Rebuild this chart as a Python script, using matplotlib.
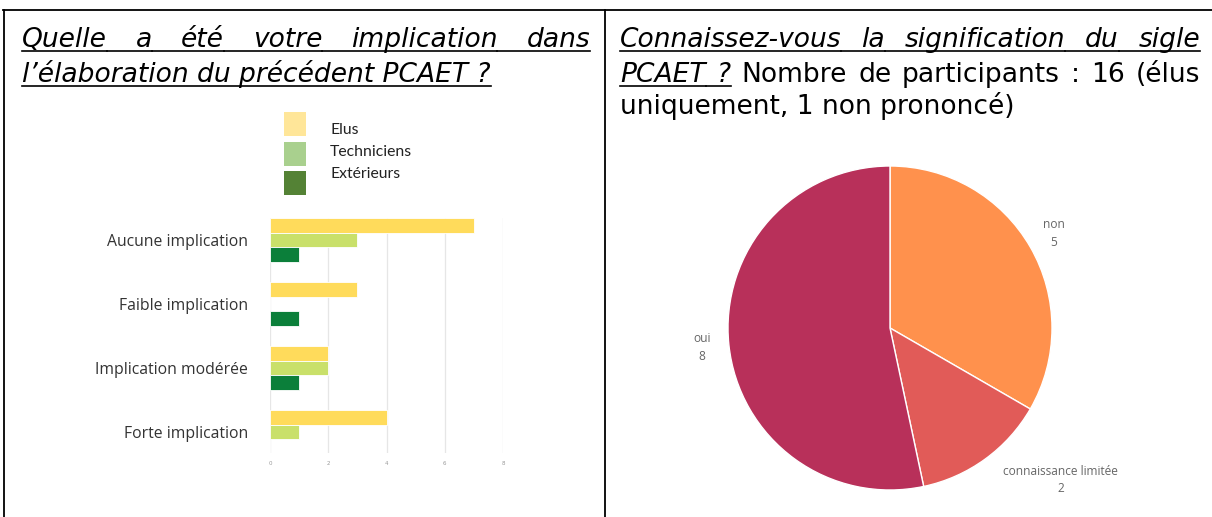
import matplotlib
matplotlib.use('Agg')
import matplotlib.pyplot as plt
import numpy as np
from matplotlib.patches import Rectangle
from matplotlib.lines import Line2D

# ---------------- data ----------------
categories = ["Aucune implication", "Faible implication",
              "Implication modérée", "Forte implication"]
series_names = ["Elus", "Techniciens", "Extérieurs"]
elus = [7, 3, 2, 4]
techniciens = [3, 0, 2, 1]
exterieurs = [1, 1, 1, 0]
x_ticks = [0, 2, 4, 6, 8]

pie_labels = ["non", "connaissance limitée", "oui"]
pie_values = [5, 2, 8]

title_left_1 = ["Quelle", "a", "été", "votre", "implication", "dans"]
title_left_2 = "l’élaboration du précédent PCAET ?"
title_right_1 = ["Connaissez-vous", "la", "signification", "du", "sigle"]
title_right_2_u = ["PCAET", "?"]
title_right_2 = ["Nombre", "de", "participants", ":", "16", "(élus"]
title_right_3 = "uniquement, 1 non prononcé)"

# ---------------- figure ----------------
W, H, DPI = 1212, 517, 100
fig = plt.figure(figsize=(W / DPI, H / DPI), dpi=DPI)
fig.patch.set_facecolor('white')
renderer = fig.canvas.get_renderer()


def fx(x):
    return x / W


def fy(y):
    return 1 - y / H


def twidth(s, **kw):
    t = fig.text(0, 0, s, **kw)
    w = t.get_window_extent(renderer).width
    t.remove()
    return w


TFONT = 'DejaVu Sans'
ital = dict(family=TFONT, style='italic')
norm = dict(family=TFONT)
# font size fitted so that the last left line is ~470 px wide
fs = 10 * 468 / twidth(title_left_2, fontsize=10, **ital)


def underline(x0, x1, base):
    fig.add_artist(Line2D([fx(x0), fx(x1)], [fy(base + 3.5), fy(base + 3.5)],
                          color='black', lw=1.2))


def justified(words, styles, x0, x1, base, ul_flags):
    widths = [twidth(w, fontsize=fs, **st) for w, st in zip(words, styles)]
    gap = (x1 - x0 - sum(widths)) / (len(words) - 1)
    x = x0
    prev_end = None
    for w, st, wd, ul in zip(words, styles, widths, ul_flags):
        fig.text(fx(x), fy(base), w, fontsize=fs, va='baseline', ha='left',
                 color='black', **st)
        if ul:
            start = prev_end if prev_end is not None else x
            underline(start, x + wd, base)
            prev_end = x + wd
        else:
            prev_end = None
        x += wd + gap


# titles
b1, b2, b3 = 47, 82, 114
justified(title_left_1, [ital] * len(title_left_1), 22, 590, b1,
          [True] * len(title_left_1))
fig.text(fx(22), fy(b2), title_left_2, fontsize=fs, va='baseline', ha='left', **ital)
underline(22, 22 + twidth(title_left_2, fontsize=fs, **ital), b2)

justified(title_right_1, [ital] * len(title_right_1), 620, 1200, b1,
          [True] * len(title_right_1))
w2 = title_right_2_u + title_right_2
justified(w2, [ital] * 2 + [norm] * len(title_right_2), 620, 1200, b2,
          [True] * 2 + [False] * len(title_right_2))
fig.text(fx(620), fy(b3), title_right_3, fontsize=fs, va='baseline', ha='left', **norm)

# table borders
for xs, ys in [((3, 1212), (10, 10)), ((4, 4), (10, 517)), ((605, 605), (10, 517))]:
    fig.add_artist(Line2D([fx(xs[0]), fx(xs[1])], [fy(ys[0]), fy(ys[1])],
                          color='black', lw=1.3))

# ---------------- legend (separate image in original) ----------------
leg_colors = ['#FFE699', '#A9D08E', '#548235']
leg_tops = [112, 142, 171]
leg_text_y = [130, 152, 174]
for name, c, top, ty in zip(series_names, leg_colors, leg_tops, leg_text_y):
    fig.add_artist(Rectangle((fx(284), fy(top + 24)), fx(22), 24 / H,
                             facecolor=c, edgecolor='none'))
    fig.text(fx(330), fy(ty), name, fontsize=11.3, family='Lato',
             color='#222222', va='center', ha='left')

# ---------------- bar chart ----------------
bar_colors = ['#FFDB5B', '#C9E06A', '#0B7F3A']
ax_top, ax_bot = 218, 453
px_per_unit = 64.0
y0_px = 240
ax = fig.add_axes([fx(270), fy(ax_bot), (503 - 270) / W, (ax_bot - ax_top) / H])
ypos = np.arange(len(categories))
h = 14.5 / px_per_unit
for vals, c, off in zip([elus, techniciens, exterieurs], bar_colors, [-h, 0, h]):
    ax.barh(ypos + off, vals, height=h, color=c, edgecolor='white', linewidth=0.6,
            zorder=3)
ax.set_xlim(0, 8)
ax.set_ylim((ax_bot - y0_px) / px_per_unit, (ax_top - y0_px) / px_per_unit)
ax.set_xticks(x_ticks)
ax.set_xticklabels([str(t) for t in x_ticks], fontsize=4, color='#999999')
ax.set_yticks(ypos)
ax.set_yticklabels(categories, fontsize=11.3, family='Open Sans', color='#333333')
ax.tick_params(axis='y', length=0, pad=16)
ax.tick_params(axis='x', length=0, pad=6)
ax.grid(axis='x', color='#E6E6E6', lw=0.9, zorder=0)
for s in ax.spines.values():
    s.set_visible(False)
ax.set_facecolor('none')

# ---------------- pie ----------------
pie_colors = ['#FF914D', '#E15B58', '#B8305A']
cx, cy, r = 890, 328, 162
axp = fig.add_axes([fx(cx - r), fy(cy + r), 2 * r / W, 2 * r / H])
wedges, texts = axp.pie(pie_values, colors=pie_colors, startangle=90,
                        counterclock=False,
                        labels=[f"{l}\n{v}" for l, v in zip(pie_labels, pie_values)],
                        labeldistance=1.165,
                        wedgeprops=dict(edgecolor='white', linewidth=1.0),
                        textprops=dict(fontsize=8.6, color='#666666',
                                       family='Open Sans', linespacing=1.45))
for t in texts:
    t.set_ha('center')
    t.set_va('center')
texts[1].set_position((1.055, -0.938))
axp.set_xlim(-1, 1)
axp.set_ylim(-1, 1)
axp.set_aspect('equal')
axp.axis('off')

fig.savefig('out.png', dpi=DPI, facecolor='white')
